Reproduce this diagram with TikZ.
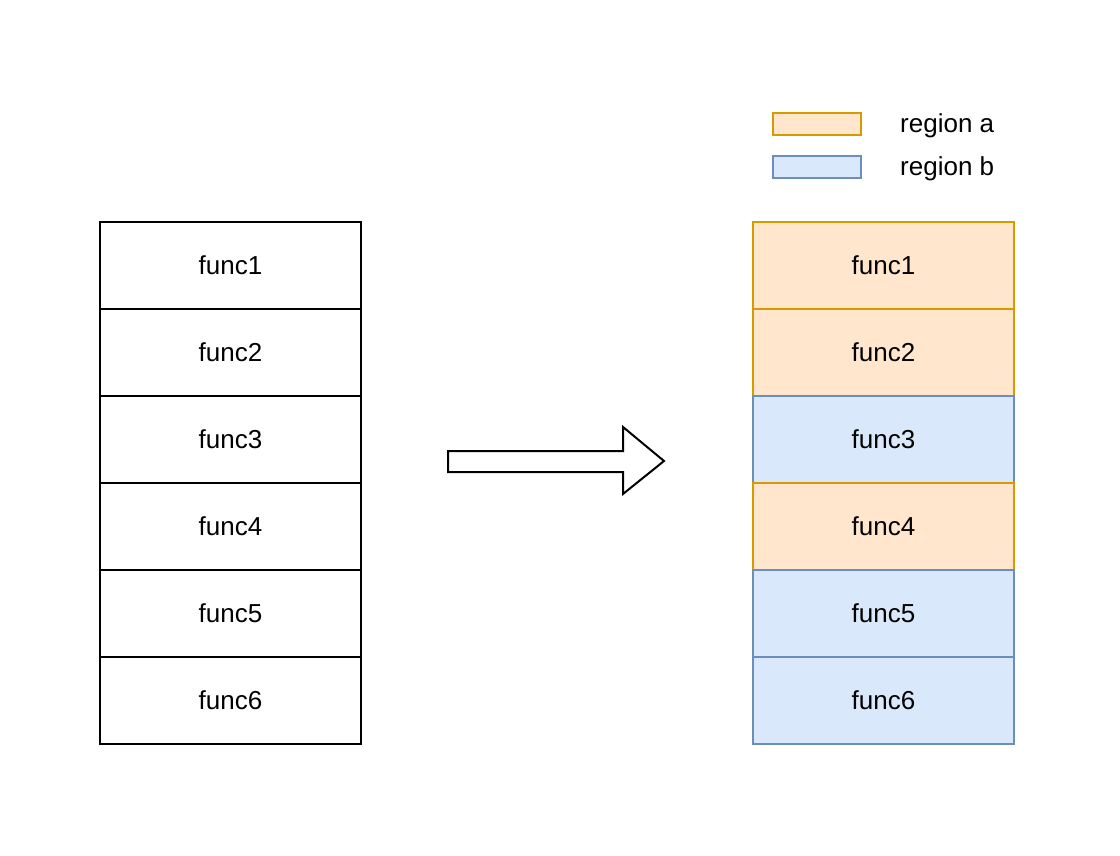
\documentclass[tikz,border=0pt]{standalone}
\usepackage{fontspec}
\setmainfont{Liberation Sans}
\definecolor{afill}{HTML}{FFE6CC}
\definecolor{adraw}{HTML}{D79B00}
\definecolor{bfill}{HTML}{DAE8FC}
\definecolor{bdraw}{HTML}{6C8EBF}
\begin{document}
\begin{tikzpicture}[x=1pt,y=-1pt,
  cell/.style={draw=black,line width=2pt,minimum width=261pt,minimum height=87pt,inner sep=0pt,anchor=north west,font=\fontsize{26}{30}\selectfont},
  rega/.style={cell,draw=adraw,fill=afill},
  regb/.style={cell,draw=bdraw,fill=bfill},
  legbox/.style={line width=2pt,minimum width=88pt,minimum height=22pt,inner sep=0pt},
  legtext/.style={anchor=west,inner sep=0pt,font=\fontsize{26}{30}\selectfont},
  bigarrow/.style={draw=black,line width=2pt,fill=white,line join=miter}]
\useasboundingbox (0,0) rectangle (1120,856);
% left column
\node[cell] (l1) at (99,221) {func1};
\node[cell] (l2) at (99,308) {func2};
\node[cell] (l3) at (99,395) {func3};
\node[cell] (l4) at (99,482) {func4};
\node[cell] (l5) at (99,569) {func5};
\node[cell] (l6) at (99,656) {func6};
% right column
\node[rega] (r1) at (752,221) {func1};
\node[rega] (r2) at (752,308) {func2};
\node[regb] (r3) at (752,395) {func3};
\node[rega] (r4) at (752,482) {func4};
\node[regb] (r5) at (752,569) {func5};
\node[regb] (r6) at (752,656) {func6};
% legend
\node[legbox,draw=adraw,fill=afill] (la) at (817,124) {};
\node[legbox,draw=bdraw,fill=bfill] (lb) at (817,167) {};
\node[legtext] (ta) at (900,126) {region a};
\node[legtext] (tb) at (900,169) {region b};
% arrow
\draw[bigarrow] (448,451) -- (623,451) -- (623,427) -- (664,461) -- (623,494) -- (623,472) -- (448,472) -- cycle;
\end{tikzpicture}
\end{document}
